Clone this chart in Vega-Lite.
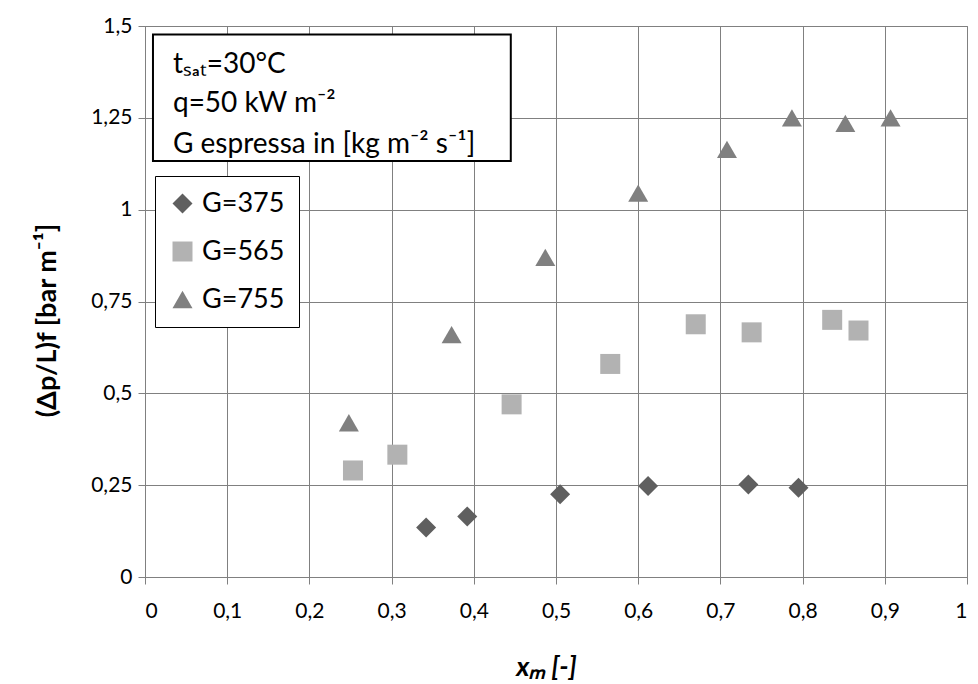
{
  "$schema": "https://vega.github.io/schema/vega-lite/v6.json",
  "width": 822,
  "height": 551,
  "autosize": "none",
  "padding": {"left": 145, "top": 26, "right": 11, "bottom": 107},
  "background": "white",
  "config": {
    "view": {"stroke": "#808080", "strokeWidth": 1},
    "font": "Lato",
    "axis": {
      "grid": true,
      "gridColor": "#808080",
      "gridOpacity": 1,
      "gridWidth": 1,
      "domainColor": "#808080",
      "tickColor": "#808080",
      "tickSize": 7,
      "labelFont": "Lato",
      "labelFontSize": 21,
      "labelColor": "#000000",
      "titleFont": "Lato",
      "titleColor": "#000000",
      "titleFontSize": 27
    }
  },
  "layer": [
    {
      "data": {
        "values": [
          {"G": "G=375", "x": 0.342, "y": 0.135},
          {"G": "G=375", "x": 0.392, "y": 0.165},
          {"G": "G=375", "x": 0.505, "y": 0.225},
          {"G": "G=375", "x": 0.612, "y": 0.248},
          {"G": "G=375", "x": 0.734, "y": 0.252},
          {"G": "G=375", "x": 0.795, "y": 0.243},
          {"G": "G=565", "x": 0.253, "y": 0.29},
          {"G": "G=565", "x": 0.307, "y": 0.333},
          {"G": "G=565", "x": 0.446, "y": 0.47},
          {"G": "G=565", "x": 0.566, "y": 0.58},
          {"G": "G=565", "x": 0.670, "y": 0.688},
          {"G": "G=565", "x": 0.738, "y": 0.666},
          {"G": "G=565", "x": 0.836, "y": 0.700},
          {"G": "G=565", "x": 0.868, "y": 0.671},
          {"G": "G=755", "x": 0.248, "y": 0.42},
          {"G": "G=755", "x": 0.373, "y": 0.66},
          {"G": "G=755", "x": 0.487, "y": 0.87},
          {"G": "G=755", "x": 0.600, "y": 1.045},
          {"G": "G=755", "x": 0.708, "y": 1.164},
          {"G": "G=755", "x": 0.787, "y": 1.25},
          {"G": "G=755", "x": 0.852, "y": 1.235},
          {"G": "G=755", "x": 0.907, "y": 1.25}
        ]
      },
      "mark": {"type": "point", "filled": true, "opacity": 1, "size": 400, "strokeWidth": 0},
      "encoding": {
        "x": {
          "field": "x", "type": "quantitative",
          "scale": {"domain": [0, 1], "nice": false},
          "axis": {
            "values": [0, 0.1, 0.2, 0.3, 0.4, 0.5, 0.6, 0.7, 0.8, 0.9, 1],
            "labelExpr": "replace(format(datum.value, '~g'), '.', ',')",
            "labelPadding": 16,
            "title": "xₘ [-]",
            "titleFontWeight": "bold",
            "titleFontStyle": "italic",
            "titleX": 401,
            "titleY": 90,
            "titleBaseline": "middle"
          }
        },
        "y": {
          "field": "y", "type": "quantitative",
          "scale": {"domain": [0, 1.5], "nice": false},
          "axis": {
            "values": [0, 0.25, 0.5, 0.75, 1, 1.25, 1.5],
            "labelExpr": "replace(format(datum.value, '~g'), '.', ',')",
            "labelPadding": 6,
            "title": "(Δp/L)f  [bar m⁻¹]",
            "titleFontWeight": "bold",
            "titleX": -98,
            "titleY": 294,
            "titleBaseline": "middle"
          }
        },
        "shape": {
          "field": "G", "type": "nominal",
          "scale": {"domain": ["G=375", "G=565", "G=755"], "range": ["diamond", "square", "triangle-up"]},
          "legend": {
            "title": null,
            "orient": "none",
            "legendX": 10,
            "legendY": 150,
            "strokeColor": "#000000",
            "fillColor": "#ffffff",
            "padding": 14,
            "symbolSize": 400,
            "labelFontSize": 27,
            "labelFont": "Lato",
            "labelColor": "#000000",
            "labelOffset": 6,
            "rowPadding": 20,
            "symbolStrokeWidth": 0
          }
        },
        "color": {
          "field": "G", "type": "nominal",
          "scale": {"domain": ["G=375", "G=565", "G=755"], "range": ["#5f5f5f", "#b2b2b2", "#808080"]},
          "legend": {
            "title": null,
            "orient": "none",
            "legendX": 10,
            "legendY": 150,
            "strokeColor": "#000000",
            "fillColor": "#ffffff",
            "padding": 14,
            "symbolSize": 400,
            "labelFontSize": 27,
            "labelFont": "Lato",
            "labelColor": "#000000",
            "labelOffset": 6,
            "rowPadding": 20,
            "symbolStrokeWidth": 0
          }
        }
      }
    },
    {
      "data": {"values": [{"x": 0.0097, "x2": 0.445, "y": 1.1326, "y2": 1.477}]},
      "mark": {"type": "rect", "fill": "#ffffff", "stroke": "#000000", "strokeWidth": 2},
      "encoding": {
        "x": {"field": "x", "type": "quantitative"},
        "x2": {"field": "x2"},
        "y": {"field": "y", "type": "quantitative"},
        "y2": {"field": "y2"}
      }
    },
    {
      "data": {
        "values": [
          {"label": "tₛₐₜ=30°C", "x": 0.034, "y": 1.372},
          {"label": "q=50 kW m⁻²", "x": 0.034, "y": 1.266},
          {"label": "G espressa in [kg m⁻² s⁻¹]", "x": 0.034, "y": 1.154}
        ]
      },
      "mark": {"type": "text", "align": "left", "baseline": "alphabetic", "fontSize": 28, "font": "Lato", "color": "#000000"},
      "encoding": {
        "x": {"field": "x", "type": "quantitative"},
        "y": {"field": "y", "type": "quantitative"},
        "text": {"field": "label"}
      }
    }
  ]
}
